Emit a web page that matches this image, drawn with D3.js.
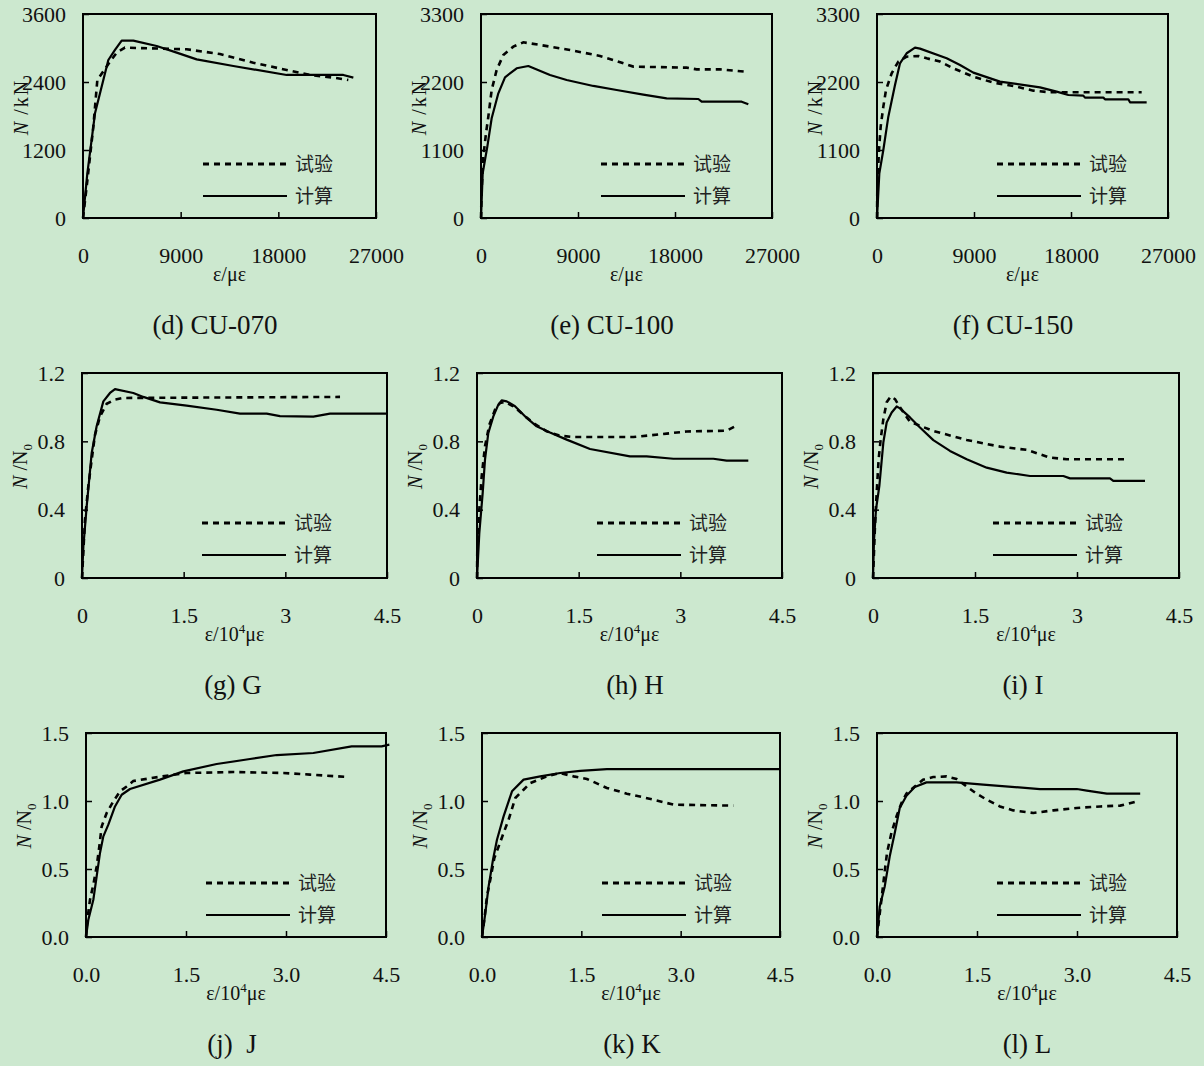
<!DOCTYPE html>
<html>
<head>
<meta charset="utf-8">
<script src="https://cdn.jsdelivr.net/npm/d3@7"></script>
<style>
    html, body { margin: 0; padding: 0; background: #cce8cf; }
    svg { display: block; }
</style>
</head>
<body>
<script>
"use strict";

const bg = '#cce8cf';
const serif = '"Liberation Serif", "Times New Roman", serif';
const cjk = '"Noto Sans CJK SC", "Noto Sans CJK JP", sans-serif';

// tick values and labels
const strainTicks = [0, 9000, 18000, 27000];
const load070Ticks = [0, 1200, 2400, 3600];
const loadTicks = [0, 1100, 2200, 3300];
const strain4Ticks = [0, 1.5, 3, 4.5];
const strain4Labels = ['0', '1.5', '3', '4.5'];
const strain4LabelsB = ['0.0', '1.5', '3.0', '4.5'];
const ratioTicks = [0, 0.4, 0.8, 1.2];
const ratioLabels = ['0', '0.4', '0.8', '1.2'];
const ratioTicksB = [0, 0.5, 1.0, 1.5];
const ratioLabelsB = ['0.0', '0.5', '1.0', '1.5'];

const legendNames = ['试验', '计算'];
const captions = ['(d) CU-070', '(e) CU-100', '(f) CU-150', '(g) G', '(h) H', '(i) I', '(j)\u00a0\u00a0J', '(k) K', '(l) L'];

// series: [strain, load]
const cu070Test = [[0,0],[338,553],[952,1612],[1321,2435],[2488,2759],[3102,2918],[3870,3006],[9553,2977],[12624,2894],[15696,2741],[18767,2612],[20917,2524],[23068,2477],[24450,2435]];
const cu070Calc = [[0,0],[400,789],[1106,1847],[2334,2788],[2949,2965],[3563,3129],[4638,3129],[6788,3035],[8632,2918],[10474,2800],[13853,2682],[18767,2524],[23990,2524],[24912,2477]];

const cu100Test = [[0,0],[62,453],[216,992],[464,1370],[680,1639],[990,2071],[1454,2395],[2072,2637],[2999,2772],[3927,2842],[5474,2799],[8258,2718],[11041,2621],[12278,2556],[14134,2449],[19082,2432],[20010,2405],[22175,2405],[24494,2367]];
const cu100Calc = [[0,0],[155,723],[587,1154],[990,1613],[1608,2017],[2227,2276],[3309,2422],[4392,2459],[6402,2314],[7948,2233],[10422,2136],[12587,2071],[15061,1996],[17226,1936],[20165,1925],[20474,1882],[24185,1882],[24803,1839]];

const cu150Test = [[0,0],[31,507],[186,1100],[340,1478],[587,1801],[835,2071],[1361,2341],[1979,2530],[2752,2610],[3835,2621],[4608,2583],[5845,2530],[7083,2422],[8938,2287],[10793,2190],[12649,2136],[14505,2060],[16051,2033],[24556,2033]];
const cu150Calc = [[0,0],[216,723],[587,1100],[1051,1639],[1670,2152],[2134,2503],[2752,2665],[3526,2756],[3990,2740],[6464,2583],[7701,2476],[8938,2351],[11412,2206],[15123,2114],[16669,2044],[17752,1990],[19144,1979],[19298,1947],[21000,1947],[21154,1920],[23319,1920],[23474,1871],[25020,1871]];

// series: [strain / 1e4, N/N0]
const gTest = [[0,0],[0.044,0.341],[0.093,0.536],[0.143,0.693],[0.192,0.839],[0.266,0.946],[0.364,1.020],[0.487,1.044],[0.610,1.054],[3.807,1.060]];
const gCalc = [[0,0],[0.020,0.185],[0.069,0.419],[0.143,0.732],[0.216,0.888],[0.315,1.034],[0.413,1.083],[0.487,1.106],[0.757,1.083],[0.905,1.060],[1.151,1.028],[1.544,1.009],[1.987,0.985],[2.331,0.962],[2.725,0.962],[2.921,0.948],[3.413,0.945],[3.659,0.962],[4.495,0.962]];

const hTest = [[0,0],[0.005,0.185],[0.034,0.400],[0.069,0.595],[0.118,0.771],[0.182,0.897],[0.266,0.985],[0.339,1.024],[0.413,1.030],[0.536,1.005],[0.684,0.956],[0.831,0.907],[1.028,0.858],[1.225,0.833],[1.421,0.825],[2.306,0.825],[2.799,0.845],[3.094,0.858],[3.684,0.862],[3.831,0.892]];
const hCalc = [[0,0],[0.034,0.263],[0.084,0.498],[0.118,0.693],[0.167,0.849],[0.241,0.946],[0.315,1.015],[0.364,1.040],[0.438,1.034],[0.561,1.005],[0.733,0.937],[0.880,0.888],[1.077,0.852],[1.323,0.810],[1.667,0.755],[2.257,0.712],[2.503,0.712],[2.897,0.698],[3.487,0.698],[3.684,0.687],[4.003,0.687]];

const iTest = [[0,0],[0.029,0.303],[0.054,0.499],[0.083,0.695],[0.113,0.812],[0.152,0.930],[0.201,1.028],[0.260,1.063],[0.324,1.047],[0.397,0.999],[0.544,0.914],[0.691,0.891],[0.887,0.861],[1.378,0.808],[1.868,0.769],[2.260,0.750],[2.603,0.705],[2.848,0.695],[3.755,0.695]];
const iCalc = [[0,0],[0.015,0.225],[0.044,0.401],[0.093,0.538],[0.152,0.793],[0.201,0.910],[0.275,0.969],[0.348,1.004],[0.397,0.993],[0.544,0.940],[0.691,0.881],[0.887,0.807],[1.132,0.744],[1.378,0.695],[1.672,0.646],[1.966,0.617],[2.309,0.597],[2.799,0.597],[2.897,0.583],[3.485,0.583],[3.534,0.568],[4.000,0.568]];

const jTest = [[0,0],[0.020,0.127],[0.060,0.274],[0.110,0.385],[0.160,0.519],[0.200,0.666],[0.235,0.813],[0.310,0.912],[0.410,0.997],[0.510,1.071],[0.610,1.107],[0.710,1.147],[1.210,1.186],[1.510,1.206],[2.210,1.213],[2.960,1.206],[3.360,1.194],[3.935,1.176]];
const jCalc = [[0,0],[0.035,0.127],[0.110,0.274],[0.160,0.446],[0.210,0.618],[0.260,0.740],[0.335,0.826],[0.435,0.960],[0.535,1.046],[0.660,1.088],[1.110,1.157],[1.460,1.218],[1.960,1.272],[2.460,1.309],[2.860,1.338],[3.410,1.353],[3.985,1.402],[4.435,1.402],[4.550,1.414]];

const kTest = [[0,0],[0.035,0.127],[0.075,0.299],[0.125,0.421],[0.186,0.581],[0.251,0.666],[0.326,0.765],[0.402,0.863],[0.503,1.022],[0.628,1.083],[0.729,1.132],[0.981,1.181],[1.181,1.206],[1.382,1.181],[1.584,1.162],[1.886,1.096],[2.187,1.054],[2.589,1.010],[2.891,0.973],[3.796,0.966]];
const kCalc = [[0,0],[0.050,0.176],[0.100,0.372],[0.166,0.568],[0.226,0.715],[0.326,0.887],[0.453,1.071],[0.628,1.157],[0.880,1.181],[1.181,1.206],[1.483,1.221],[1.886,1.235],[4.500,1.235]];

const lTest = [[0,0],[0.030,0.127],[0.066,0.274],[0.101,0.421],[0.150,0.618],[0.216,0.765],[0.292,0.887],[0.367,0.985],[0.442,1.054],[0.567,1.107],[0.691,1.157],[0.842,1.176],[1.043,1.181],[1.193,1.162],[1.344,1.107],[1.494,1.054],[1.644,1.010],[1.844,0.960],[2.044,0.931],[2.345,0.912],[2.645,0.931],[2.997,0.949],[3.347,0.960],[3.648,0.966],[3.899,0.997]];
const lCalc = [[0,0],[0.041,0.225],[0.116,0.372],[0.191,0.593],[0.266,0.765],[0.341,0.949],[0.442,1.039],[0.567,1.103],[0.742,1.137],[1.193,1.137],[1.593,1.120],[2.445,1.088],[2.997,1.088],[3.147,1.076],[3.448,1.054],[3.948,1.054]];

// layout of the nine panels (plot box in page pixels)
const rows = [{top: 14, bottom: 218}, {top: 373, bottom: 578}, {top: 733, bottom: 937}];
const panels = [
    {row: 0, left: 83,  right: 376,  capX: 215,  test: cu070Test, calc: cu070Calc, xT: strainTicks, yT: load070Ticks, yMax: 3600},
    {row: 0, left: 481, right: 772,  capX: 612,  test: cu100Test, calc: cu100Calc, xT: strainTicks, yT: loadTicks, yMax: 3300},
    {row: 0, left: 877, right: 1168, capX: 1013, test: cu150Test, calc: cu150Calc, xT: strainTicks, yT: loadTicks, yMax: 3300},
    {row: 1, left: 82,  right: 387,  capX: 233,  test: gTest, calc: gCalc, xT: strain4Ticks, xL: strain4Labels, yT: ratioTicks, yL: ratioLabels, yMax: 1.2},
    {row: 1, left: 477, right: 782,  capX: 635,  test: hTest, calc: hCalc, xT: strain4Ticks, xL: strain4Labels, yT: ratioTicks, yL: ratioLabels, yMax: 1.2},
    {row: 1, left: 873, right: 1179, capX: 1023, test: iTest, calc: iCalc, xT: strain4Ticks, xL: strain4Labels, yT: ratioTicks, yL: ratioLabels, yMax: 1.2},
    {row: 2, left: 86,  right: 386,  capX: 232,  test: jTest, calc: jCalc, xT: strain4Ticks, xL: strain4LabelsB, yT: ratioTicksB, yL: ratioLabelsB, yMax: 1.5},
    {row: 2, left: 482, right: 780,  capX: 632,  test: kTest, calc: kCalc, xT: strain4Ticks, xL: strain4LabelsB, yT: ratioTicksB, yL: ratioLabelsB, yMax: 1.5},
    {row: 2, left: 877, right: 1177, capX: 1027, test: lTest, calc: lCalc, xT: strain4Ticks, xL: strain4LabelsB, yT: ratioTicksB, yL: ratioLabelsB, yMax: 1.5}
];

const width = 1204, height = 1066;
const svg = d3.select('body').append('svg')
    .attr('width', width)
    .attr('height', height)
    .style('background', bg);

const dash = '6,5';

panels.forEach((p, i) => {
    const {top, bottom} = rows[p.row];
    const x = d3.scaleLinear().domain([0, p.xT[p.xT.length - 1]]).range([p.left, p.right]);
    const y = d3.scaleLinear().domain([0, p.yMax]).range([bottom, top]);
    const g = svg.append('g').attr('class', 'panel');

    const xAxis = d3.axisBottom(x)
        .tickValues(p.xT)
        .tickFormat((d, k) => p.xL ? p.xL[k] : d)
        .tickSizeInner(-6)
        .tickSizeOuter(0)
        .tickPadding(29);
    const yAxis = d3.axisLeft(y)
        .tickValues(p.yT)
        .tickFormat((d, k) => p.yL ? p.yL[k] : d)
        .tickSizeInner(-6)
        .tickSizeOuter(0)
        .tickPadding(17);

    const gx = g.append('g').attr('transform', `translate(0,${bottom})`).call(xAxis);
    const gy = g.append('g').attr('transform', `translate(${p.left},0)`).call(yAxis);
    [gx, gy].forEach(a => {
        a.select('.domain').remove();
        a.selectAll('line').attr('stroke', '#000').attr('stroke-width', 1.5);
        a.selectAll('text')
            .attr('fill', '#111')
            .style('font-family', serif)
            .style('font-size', '22px');
    });

    g.append('rect')
        .attr('x', p.left).attr('y', top)
        .attr('width', p.right - p.left).attr('height', bottom - top)
        .attr('fill', 'none').attr('stroke', '#000').attr('stroke-width', 2);

    const line = d3.line().x(d => x(d[0])).y(d => y(d[1]));

    g.append('path').datum(p.test)
        .attr('d', line)
        .attr('fill', 'none').attr('stroke', '#000')
        .attr('stroke-width', 2.6).attr('stroke-dasharray', dash);
    g.append('path').datum(p.calc)
        .attr('d', line)
        .attr('fill', 'none').attr('stroke', '#000')
        .attr('stroke-width', 2.2).attr('stroke-linejoin', 'round');

    // legend
    const lx0 = p.left + 120, lx1 = p.left + 204;
    [top + 150, top + 182].forEach((ly, k) => {
        g.append('line')
            .attr('x1', lx0).attr('x2', lx1).attr('y1', ly).attr('y2', ly)
            .attr('stroke', '#000')
            .attr('stroke-width', k === 0 ? 3 : 2.2)
            .attr('stroke-dasharray', k === 0 ? dash : null);
        g.append('text')
            .attr('x', lx1 + 8).attr('y', ly)
            .attr('dy', '0.36em')
            .attr('fill', '#222')
            .style('font-family', cjk)
            .style('font-size', '19px')
            .text(legendNames[k]);
    });

    // x title
    const xt = g.append('text')
        .attr('x', (p.left + p.right) / 2)
        .attr('y', bottom + 63)
        .attr('text-anchor', 'middle')
        .attr('fill', '#111')
        .style('font-family', serif)
        .style('font-size', '20px');
    if (p.row === 0) {
        xt.text('ε/με');
    } else {
        xt.append('tspan').text('ε/10');
        xt.append('tspan').attr('dy', -8).style('font-size', '13px').text('4');
        xt.append('tspan').attr('dy', 8).text('με');
    }

    // y title
    const yc = (top + bottom) / 2 - 9;
    const yt = g.append('text')
        .attr('transform', `translate(${p.left - 62},${yc}) rotate(-90)`)
        .attr('text-anchor', 'middle')
        .attr('dy', '0.35em')
        .attr('fill', '#111')
        .style('font-family', serif)
        .style('font-size', '20px');
    yt.append('tspan').style('font-style', 'italic').text('N');
    if (p.row === 0) {
        yt.append('tspan').attr('letter-spacing', 2).text(' /kN');
    } else {
        yt.append('tspan').text(' /N');
        yt.append('tspan').attr('dy', 5).style('font-size', '13px').text('0');
    }

    // caption
    g.append('text')
        .attr('x', p.capX)
        .attr('y', bottom + 116)
        .attr('text-anchor', 'middle')
        .attr('fill', '#111')
        .style('font-family', serif)
        .style('font-size', '27px')
        .text(captions[i]);
});
</script>
</body>
</html>
